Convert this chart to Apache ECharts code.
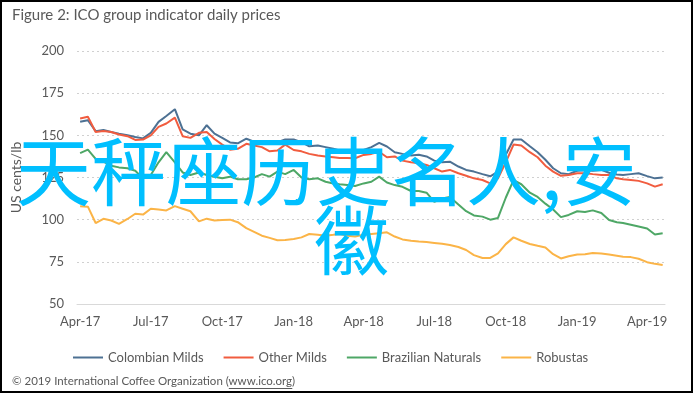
<!DOCTYPE html>
<html>
<head>
<meta charset="utf-8">
<script src="https://cdn.jsdelivr.net/npm/echarts@6/dist/echarts.min.js"></script>
<style>
html,body{margin:0;padding:0;background:#fff;}
#chart{width:695px;height:394px;}
</style>
</head>
<body>
<div id="chart"></div>
<script>
const dates = [
'2017-04-01','2017-04-11','2017-04-21','2017-05-01','2017-05-11','2017-05-21',
'2017-06-01','2017-06-11','2017-06-21','2017-07-01','2017-07-11','2017-07-21',
'2017-08-01','2017-08-11','2017-08-21','2017-09-01','2017-09-11','2017-09-21',
'2017-10-01','2017-10-11','2017-10-21','2017-11-01','2017-11-11','2017-11-21',
'2017-12-01','2017-12-11','2017-12-21','2018-01-01','2018-01-11','2018-01-21',
'2018-02-01','2018-02-11','2018-02-21','2018-03-01','2018-03-11','2018-03-21',
'2018-04-01','2018-04-11','2018-04-21','2018-05-01','2018-05-11','2018-05-21',
'2018-06-01','2018-06-11','2018-06-21','2018-07-01','2018-07-11','2018-07-21',
'2018-08-01','2018-08-11','2018-08-21','2018-09-01','2018-09-11','2018-09-21',
'2018-10-01','2018-10-11','2018-10-21','2018-11-01','2018-11-11','2018-11-21',
'2018-12-01','2018-12-11','2018-12-21','2019-01-01','2019-01-11','2019-01-21',
'2019-02-01','2019-02-11','2019-02-21','2019-03-01','2019-03-11','2019-03-21',
'2019-04-01','2019-04-11','2019-04-21'
];
const colombianMilds = [
158,159,152.5, 153.2,152,151, 150,149,148.2, 151.5,158,161.5,
165.5,153.5,151, 150,156,151, 148.5,145.8,145.3, 148,146.3,145,
145,146,147.5, 147.5,146,143.5, 144,143,142, 141,140,139.5,
141.3,143,145.5, 143.4,140,139, 138,138.5,137.5, 135,134,134.4,
131.5,129.5,128.5, 127,125.7,128.5, 138.5,147.5,147.5, 143.5,140,135.5,
130.5,127.5,127, 129,129.3,129, 129.5,127.8,126.8, 126.5,127,127.5,
125.8,124.5,125
];
const otherMilds = [
160,161,152, 152.5,152,150.5, 149.5,147.3,147.5, 150,155,157,
160.5,149.5,148.5, 151.5,152,147.8, 144.5,141.5,142, 145,144,143,
140.5,141,144.5, 141.3,140.5,139, 138,137.4,137, 136.5,136.5,136.4,
138.4,139,140.3, 137,137.5,135, 134,133.5,132.4, 130.5,128.5,129.5,
127.5,126,124.5, 123.5,121.5,124.5, 134,144.5,144, 140,137,132,
128.5,126,126.5, 127.5,127.5,127, 126.5,126.5,124.5, 124,123.5,123,
121.5,119.6,121
];
const brazilianNaturals = [
139.5,141.5,136, 134.4,132,131, 130.5,129,124.5, 126.5,134,140,
134,128,126.5, 128,126.5,125.5, 124.5,125.5,124, 124,125,127,
125.5,128.5,127, 129.5,125,124, 124.5,122.5,121.5, 121,120.5,120,
121.5,122.5,125.5, 122,120.5,119.5, 117,117,116, 110.5,112.5,113.5,
109,105,102.5, 101.8,100,101, 113,123.5,121, 116,113.5,109.5,
106,101.5,102.8, 105,104.5,105.5, 104,99.8,98.5, 98,97,96,
94.8,91.2,92
];
const robustas = [
108,107.7,98, 100.5,99.5,97.5, 100.4,103.5,103, 106.5,106,105.5,
108,106.5,105, 99,100.6,99.5, 99.8,100,98.5, 95,92.8,90.5,
89.2,87.8,88, 88.5,89.5,91.5, 91,90.5,91, 91.5,90.5,90,
91,91.5,92, 92.5,90,88.3, 87.5,87,86.7, 86.2,85.7,85,
83.8,82,79, 77.3,77.3,80, 85.5,89.5,87.5, 85.6,84.5,83.5,
79.5,77,78.3, 79.3,79.5,80.2, 80,79.3,78.6, 78,77.8,76.8,
74.8,73.8,73.1
];
const seriesNames = ['Colombian Milds','Other Milds','Brazilian Naturals','Robustas'];
const seriesColors = ['#4d7193','#f15c3f','#4ea766','#fbb447'];
const xTickDates = ['2017-04-01','2017-07-01','2017-10-01','2018-01-01','2018-04-01','2018-07-01','2018-10-01','2019-01-01','2019-04-01'];
const monthNames = ['Jan','Feb','Mar','Apr','May','Jun','Jul','Aug','Sep','Oct','Nov','Dec'];
const yMin = 50, yMax = 200, yStep = 25;
const titleText = 'Figure 2: ICO group indicator daily prices';
const yAxisTitle = 'US cents/lb';
const footerText = '© 2019 International Coffee Organization (';
const footerLink = 'www.ico.org';
const watermarkLine1 = '天秤座历史名人,安';
const watermarkLine2 = '徽';

const FONT = 'Lato, "Liberation Sans", sans-serif';
const TXT = '#595959';

function ts(s){ const p=s.split('-'); return Date.UTC(+p[0], +p[1]-1, +p[2]); }
const allSeries = [colombianMilds, otherMilds, brazilianNaturals, robustas];

const chart = echarts.init(document.getElementById('chart'), null, {renderer:'canvas'});

const FOOTFONT = '11.5px ' + FONT;
const cv = document.createElement('canvas').getContext('2d');
cv.font = FOOTFONT;
const footW1 = cv.measureText(footerText).width;
const footW2 = cv.measureText(footerLink).width;
const footX = 12, footY = 382;

chart.setOption({
  animation:false,
  backgroundColor:'#fff',
  textStyle:{fontFamily:FONT},
  title:{text:titleText, left:7, top:3, textStyle:{fontSize:15, fontWeight:'normal', color:TXT, fontFamily:FONT}},
  grid:{left:77, right:30, top:51, bottom:90, containLabel:false},
  legend:{
    data:seriesNames, left:68, top:346, itemWidth:30, itemHeight:2, itemGap:20,
    icon:'rect', textStyle:{fontSize:13, color:TXT, fontFamily:FONT}
  },
  xAxis:{
    type:'value', min:ts('2017-03-28'), max:ts('2019-04-24'),
    axisLine:{show:true, onZero:false, lineStyle:{color:'#d9d9d9', width:1}},
    axisTick:{show:false},
    splitLine:{show:false},
    axisLabel:{
      customValues:xTickDates.map(ts), margin:11, fontSize:13, color:TXT, fontFamily:FONT,
      formatter:function(v){ const d=new Date(v); return monthNames[d.getUTCMonth()]+'-'+String(d.getUTCFullYear()).slice(2); }
    }
  },
  yAxis:{
    type:'value', min:yMin, max:yMax, interval:yStep,
    name:yAxisTitle, nameLocation:'middle', nameGap:54, nameRotate:90,
    nameTextStyle:{fontSize:14, color:TXT, fontFamily:FONT},
    axisLine:{show:false}, axisTick:{show:false},
    axisLabel:{fontSize:13, color:TXT, margin:13, fontFamily:FONT},
    splitLine:{show:true, lineStyle:{color:'#d0d0d0', type:[2,3], width:1}}
  },
  series: seriesNames.map((n,i)=>({
    name:n, type:'line', showSymbol:false, symbol:'none',
    data: dates.map((d,j)=>[ts(d), allSeries[i][j]]),
    lineStyle:{width:2, color:seriesColors[i]}, itemStyle:{color:seriesColors[i]},
    z:2+i
  })),
  graphic:[
    {type:'rect', shape:{x:1, y:1, width:691, height:391}, style:{fill:'none', stroke:'#000', lineWidth:2}, z:100, silent:true},
    {type:'text', left:footX, top:footY-7, style:{text:footerText+footerLink+')', fill:TXT, font:FOOTFONT}, z:100},
    {type:'line', shape:{x1:footX+footW1, y1:footY+6.5, x2:footX+footW1+footW2, y2:footY+6.5}, style:{stroke:TXT, lineWidth:1}, z:100},
    {type:'text', x:16, y:171, style:{text:watermarkLine1, font:'75px "Noto Sans CJK SC"', fill:'#00bfff', textAlign:'left', textVerticalAlign:'middle'}, z:200},
    {type:'text', x:314, y:240, style:{text:watermarkLine2, font:'75px "Noto Sans CJK SC"', fill:'#00bfff', textAlign:'left', textVerticalAlign:'middle'}, z:200}
  ]
});
</script>
</body>
</html>
